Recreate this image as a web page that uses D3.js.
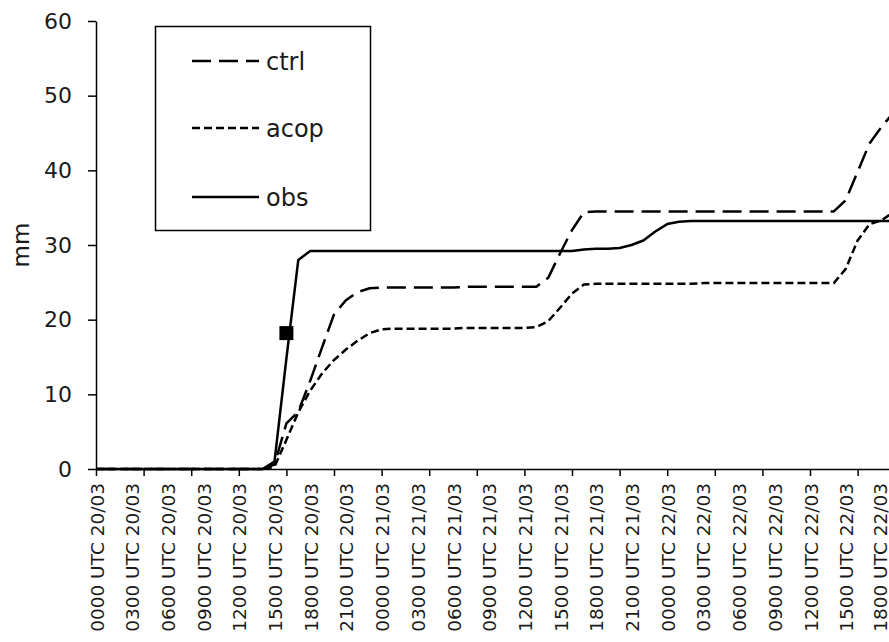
<!DOCTYPE html>
<html>
<head>
<meta charset="utf-8">
<script src="https://cdn.jsdelivr.net/npm/d3@7"></script>
<style>
  html, body { margin: 0; padding: 0; background: #fff; }
  svg { display: block; }
  text { font-family: "DejaVu Sans", sans-serif; fill: #1a1a1a; }
</style>
</head>
<body>
<div id="chart"></div>
<script>
// ---- Data (hourly values from 0000 UTC 20/03) ----
const hours = [0,1,2,3,4,5,6,7,8,9,10,11,12,13,14,15,16,17,18,19,20,21,22,23,24,25,26,27,28,29,30,31,32,33,34,35,36,37,38,39,40,41,42,43,44,45,46,47,48,49,50,51,52,53,54,55,56,57,58,59,60,61,62,63,64,65,66,67];

const ctrl = [0,0,0,0,0,0,0,0,0,0,0,0,0,0,0,
  0.6,6.1,7.7,11.8,16.3,20.7,22.6,23.7,24.2,
  24.3,24.3,24.3,24.3,24.3,24.3,24.3,
  24.4,24.4,24.4,24.4,24.4,24.4,24.4,
  25.6,28.9,32.0,34.4,
  34.5,34.5,34.5,34.5,34.5,34.5,34.5,34.5,34.5,34.5,34.5,34.5,34.5,34.5,34.5,34.5,34.5,34.5,34.5,34.5,34.5,
  36.0,39.8,43.6,45.8,47.7];

const acop = [0,0,0,0,0,0,0,0,0,0,0,0,0,0,0,
  0.3,3.9,7.6,10.5,12.8,14.6,16.0,17.2,18.2,18.7,
  18.8,18.8,18.8,18.8,18.8,18.8,
  18.9,18.9,18.9,18.9,18.9,18.9,
  19.0,19.8,21.6,23.5,24.7,
  24.8,24.8,24.8,24.8,24.8,24.8,24.8,24.8,24.8,
  24.9,24.9,24.9,24.9,24.9,24.9,24.9,24.9,24.9,24.9,24.9,24.9,
  26.8,30.6,32.8,33.3,34.4];

const obs = [0,0,0,0,0,0,0,0,0,0,0,0,0,0,0,
  1.0,14.8,28.0,29.2,
  29.2,29.2,29.2,29.2,29.2,29.2,29.2,29.2,29.2,29.2,29.2,29.2,29.2,29.2,29.2,29.2,29.2,29.2,29.2,29.2,29.2,29.2,
  29.4,29.5,29.5,29.6,30.0,30.6,31.8,32.8,33.1,
  33.2,33.2,33.2,33.2,33.2,33.2,33.2,33.2,33.2,33.2,33.2,33.2,33.2,33.2,33.2,33.2,33.2,33.2];

const markerHours = [16];
const markerValues = [18.2];

const yTicks = [0,10,20,30,40,50,60];
const xTickHours = [0,4,8,12,16,20,24,28,32,36,40,44,48,52,56,60,64,68,72];
const labelHours = [0,3,6,9,12,15,18,21,24,27,30,33,36,39,42,45,48,51,54,57,60,63,66];
const xLabels = [
  "0000 UTC 20/03","0300 UTC 20/03","0600 UTC 20/03","0900 UTC 20/03",
  "1200 UTC 20/03","1500 UTC 20/03","1800 UTC 20/03","2100 UTC 20/03",
  "0000 UTC 21/03","0300 UTC 21/03","0600 UTC 21/03","0900 UTC 21/03",
  "1200 UTC 21/03","1500 UTC 21/03","1800 UTC 21/03","2100 UTC 21/03",
  "0000 UTC 22/03","0300 UTC 22/03","0600 UTC 22/03","0900 UTC 22/03",
  "1200 UTC 22/03","1500 UTC 22/03","1800 UTC 22/03"];

const seriesNames = ["ctrl","acop","obs"];
const seriesData = [ctrl, acop, obs];
const seriesDash = ["19,8", "8,4", null];

// ---- Layout ----
const W = 889, H = 642;
const x0 = 96, xAxisY = 469, yTop = 21;
const pxPerHour = 11.9;

const svg = d3.select("#chart").append("svg")
  .attr("width", W).attr("height", H);

const x = d3.scaleLinear().domain([0, 72]).range([x0, x0 + 72 * pxPerHour]);
const y = d3.scaleLinear().domain([0, 60]).range([xAxisY, yTop]);

// Y axis
const yAxis = svg.append("g")
  .attr("transform", `translate(${x0},0)`)
  .call(d3.axisLeft(y).tickValues(yTicks).tickSize(8).tickSizeOuter(0).tickPadding(16));
yAxis.select(".domain").attr("stroke", "#000").attr("stroke-width", 1.5);
yAxis.selectAll(".tick line").attr("stroke", "#000").attr("stroke-width", 1.5);
yAxis.selectAll(".tick text")
  .style("font-family", '"DejaVu Sans", sans-serif')
  .style("font-size", "22px").attr("fill", "#1a1a1a");

// X axis (tick marks every 4 hours)
const xAxis = svg.append("g")
  .attr("transform", `translate(0,${xAxisY})`)
  .call(d3.axisBottom(x).tickValues(xTickHours).tickSize(7).tickSizeOuter(0).tickFormat(""));
xAxis.select(".domain").attr("stroke", "#000").attr("stroke-width", 1.5);
xAxis.selectAll(".tick line").attr("stroke", "#000").attr("stroke-width", 1.5);

// X labels every 3 hours, rotated
svg.append("g").selectAll("text")
  .data(labelHours)
  .join("text")
  .attr("transform", d => `translate(${Math.min(x(d) + 1, W - 9)},483) rotate(-90)`)
  .attr("text-anchor", "end")
  .attr("dominant-baseline", "central")
  .style("font-size", "18.5px")
  .text((d, i) => xLabels[i]);

// Y axis title
svg.append("text")
  .attr("transform", "translate(21,245) rotate(-90)")
  .attr("text-anchor", "middle")
  .attr("dominant-baseline", "central")
  .style("font-size", "23px")
  .text("mm");

// Lines
const line = d3.line()
  .x((d, i) => x(hours[i]))
  .y(d => y(d));

svg.append("defs").append("clipPath").attr("id", "plotclip")
  .append("rect").attr("x", x0).attr("y", 0).attr("width", W - x0).attr("height", xAxisY + 2);

const plot = svg.append("g").attr("clip-path", "url(#plotclip)");

seriesData.forEach((s, k) => {
  plot.append("path")
    .datum(s)
    .attr("d", line)
    .attr("fill", "none")
    .attr("stroke", "#000")
    .attr("stroke-width", 2.5)
    .attr("stroke-linejoin", "round")
    .attr("stroke-dasharray", seriesDash[k]);
});

// Marker
const ms = 14;
svg.append("g").selectAll("rect")
  .data(markerHours)
  .join("rect")
  .attr("x", d => x(d) - ms / 2)
  .attr("y", (d, i) => y(markerValues[i]) - ms / 2)
  .attr("width", ms).attr("height", ms)
  .attr("fill", "#000");

// Legend
const leg = svg.append("g");
leg.append("rect")
  .attr("x", 155.5).attr("y", 26.5).attr("width", 215).attr("height", 204)
  .attr("fill", "#fff").attr("stroke", "#000").attr("stroke-width", 1.5);
const legY = [61, 128, 197];
seriesNames.forEach((n, k) => {
  leg.append("line")
    .attr("x1", 192).attr("x2", 259)
    .attr("y1", legY[k]).attr("y2", legY[k])
    .attr("stroke", "#000").attr("stroke-width", 2.5)
    .attr("stroke-dasharray", seriesDash[k]);
  leg.append("text")
    .attr("x", 266).attr("y", legY[k] + 9)
    .style("font-size", "24px")
    .text(n);
});
</script>
</body>
</html>
